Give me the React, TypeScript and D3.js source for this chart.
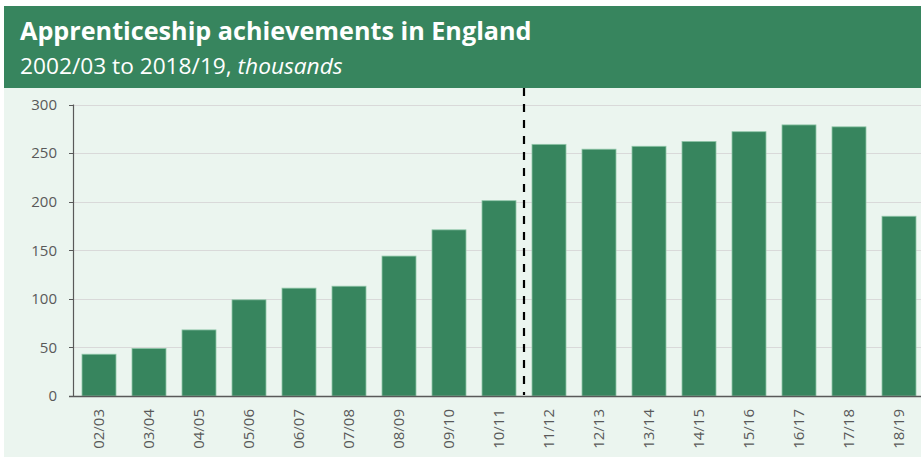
import React from "react";
import * as d3 from "d3";

const categories = ["02/03","03/04","04/05","05/06","06/07","07/08","08/09","09/10","10/11","11/12","12/13","13/14","14/15","15/16","16/17","17/18","18/19"];
const values = [43, 49, 68, 99, 111, 113, 144, 171, 201, 259, 254, 257, 262, 272, 279, 277, 185];
const yTicks = [0, 50, 100, 150, 200, 250, 300];
const title = "Apprenticeship achievements in England";
const subtitleMain = "2002/03 to 2018/19, ";
const subtitleItalic = "thousands";
const breakAfter = "10/11";

const W = 921, H = 457;
const GREEN = "#37855e";
const BG = "#ebf5ef";
const FONT = "'Open Sans', sans-serif";

export default function App() {
  const x = d3.scaleBand<string>().domain(categories).range([74, 924]).paddingInner(0.32).paddingOuter(0.16);
  const y = d3.scaleLinear().domain([0, 300]).range([396, 104.5]);
  const axisX = 73.5;
  const breakX = (x(breakAfter) as number) + x.bandwidth() + (x.step() - x.bandwidth()) / 2;

  return (
    <svg width={W} height={H} style={{ position: "absolute", left: 0, top: 0 }} fontFamily={FONT}>
      <rect x={0} y={0} width={W} height={H} fill="#ffffff" />
      <rect x={4} y={88} width={W - 4} height={H - 88} fill={BG} />
      <rect x={4} y={6} width={W - 4} height={82} fill={GREEN} />
      <text x={20} y={39.5} fill="#ffffff" fontSize={25.2} fontWeight={700}>{title}</text>
      <text x={20} y={73.5} fill="#ffffff" fontSize={22.7}>
        {subtitleMain}<tspan fontStyle="italic">{subtitleItalic}</tspan>
      </text>

      {yTicks.map(t => (
        <g key={t}>
          {t > 0 && <line x1={axisX} x2={W} y1={Math.round(y(t)) + 0.5} y2={Math.round(y(t)) + 0.5} stroke="#d9d9d9" strokeWidth={1} />}
          <line x1={69} x2={axisX} y1={Math.round(y(t)) + 0.5} y2={Math.round(y(t)) + 0.5} stroke="#595959" strokeWidth={1} />
          <text x={57} y={y(t)} dy="0.35em" textAnchor="end" fontSize={15} fill="#595959">{t}</text>
        </g>
      ))}

      {categories.map((c, i) => (
        <rect key={c} x={x(c)} y={y(values[i])} width={x.bandwidth()} height={y(0) - y(values[i])}
          fill={GREEN} stroke="#8fc6a8" strokeWidth={0.8} />
      ))}

      <line x1={breakX} x2={breakX} y1={88} y2={395} stroke="#000000" strokeWidth={2.2} strokeDasharray="8,8" />

      <line x1={axisX} x2={axisX} y1={y(300)} y2={y(0)} stroke="#595959" strokeWidth={1.2} />
      <line x1={69} x2={W} y1={y(0) + 0.5} y2={y(0) + 0.5} stroke="#595959" strokeWidth={1.5} />

      {categories.map(c => {
        const cx = (x(c) as number) + x.bandwidth() / 2;
        return (
          <text key={c} transform={`translate(${cx},409) rotate(-90)`} textAnchor="end" dy="0.35em" fontSize={15} fill="#595959">{c}</text>
        );
      })}
    </svg>
  );
}
